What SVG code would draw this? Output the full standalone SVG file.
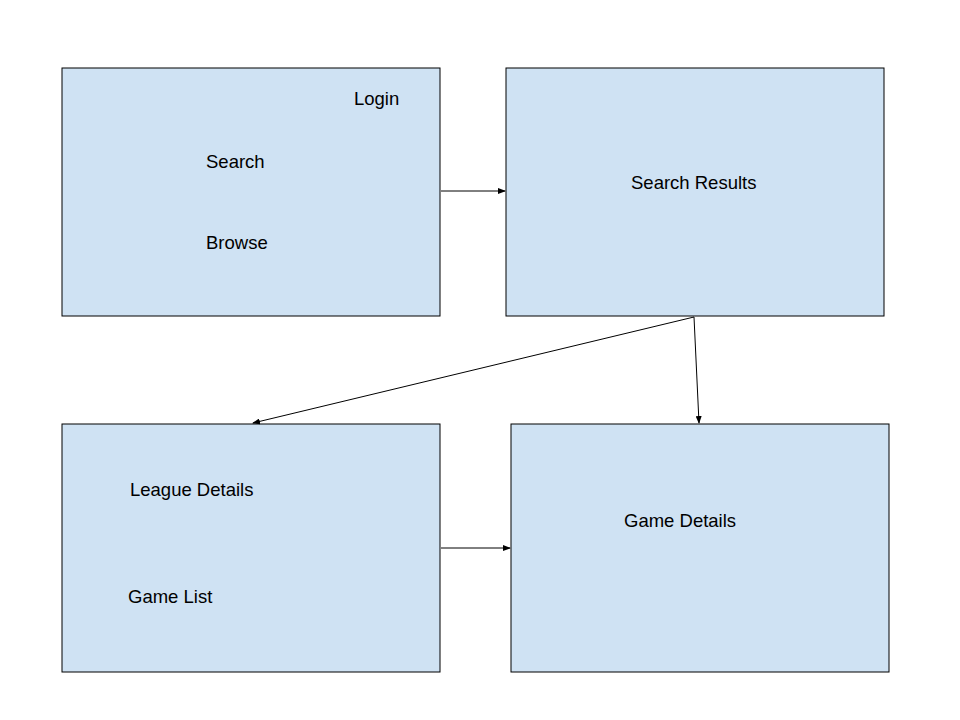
<svg xmlns="http://www.w3.org/2000/svg" width="960" height="720" viewBox="0 0 960 720">
<style>
.box{fill:#cfe2f3;stroke:#000;stroke-width:1}
.lbl{font-family:"Liberation Sans",Arial,sans-serif;font-size:18.5px;fill:#000}
.con{stroke:#000;stroke-width:1;fill:none;marker-end:url(#ah)}
</style>
<defs>
<marker id="ah" markerWidth="8" markerHeight="6" refX="7" refY="3" orient="auto" markerUnits="userSpaceOnUse">
<path d="M0,0 L8,3 L0,6 Z" fill="#000"/>
</marker>
</defs>
<rect width="960" height="720" fill="#fff"/>
<g id="home">
<rect class="box" x="62" y="68" width="378" height="248"/>
<text class="lbl" x="354" y="105">Login</text>
<text class="lbl" x="206" y="168">Search</text>
<text class="lbl" x="206" y="249">Browse</text>
</g>
<g id="search-results">
<rect class="box" x="506" y="68" width="378" height="248"/>
<text class="lbl" x="631" y="189">Search Results</text>
</g>
<g id="league-details">
<rect class="box" x="62" y="424" width="378" height="248"/>
<text class="lbl" x="130" y="496">League Details</text>
<text class="lbl" x="128" y="603">Game List</text>
</g>
<g id="game-details">
<rect class="box" x="511" y="424" width="378" height="248"/>
<text class="lbl" x="624" y="527">Game Details</text>
</g>
<g id="connectors">
<line class="con" x1="441" y1="191" x2="505" y2="191"/>
<line class="con" x1="694" y1="317" x2="253" y2="423"/>
<line class="con" x1="694" y1="317" x2="699" y2="423"/>
<line class="con" x1="441" y1="548" x2="510" y2="548"/>
</g>
</svg>
